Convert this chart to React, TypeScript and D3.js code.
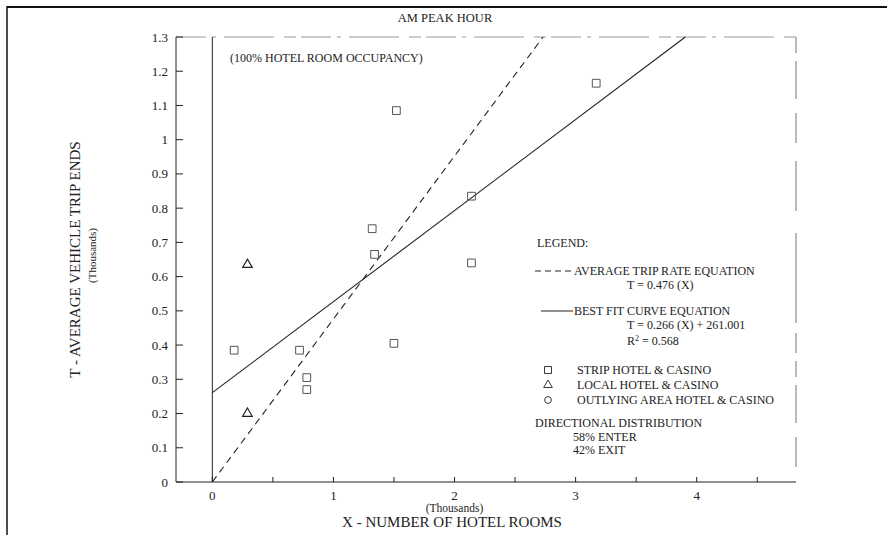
import React, { useEffect, useRef } from 'react';
import * as d3 from 'd3';

// Strip hotel & casino observations (thousands of rooms, thousands of trip ends)
const stripRooms = [0.18, 0.72, 0.78, 0.78, 1.5, 1.52, 1.32, 1.34, 2.14, 2.14, 3.17];
const stripTrips = [0.385, 0.385, 0.305, 0.27, 0.405, 1.085, 0.74, 0.665, 0.835, 0.64, 1.165];
// Local hotel & casino observations
const localRooms = [0.29, 0.29];
const localTrips = [0.635, 0.2];

const avgRate = 0.476;
const fitSlope = 0.266;
const fitIntercept = 0.261;

const xTicks = [0, 1, 2, 3, 4];
const xMinorTicks = [0, 0.5, 1, 1.5, 2, 2.5, 3, 3.5, 4, 4.5];
const yTicks = [0, 0.1, 0.2, 0.3, 0.4, 0.5, 0.6, 0.7, 0.8, 0.9, 1, 1.1, 1.2, 1.3];

const legendLines = [
  { text: 'AVERAGE TRIP RATE EQUATION', sub: ['T = 0.476 (X)'], dash: '6,4' },
  { text: 'BEST FIT CURVE EQUATION', sub: ['T = 0.266 (X) + 261.001', 'R2 = 0.568'], dash: '' },
];
const legendSymbols = ['STRIP HOTEL & CASINO', 'LOCAL HOTEL & CASINO', 'OUTLYING AREA HOTEL & CASINO'];
const distribution = ['58% ENTER', '42% EXIT'];

const W = 887;
const H = 535;

const Chart: React.FC = () => {
  const svgRef = useRef<SVGSVGElement | null>(null);

  useEffect(() => {
    if (!svgRef.current) return;
    const svg = d3.select(svgRef.current);
    svg.selectAll('*').remove();
    const font = '"Liberation Serif", "DejaVu Serif", serif';
    const ink = '#222';

    const x = d3.scaleLinear().domain([-0.3, 4.82]).range([176, 796]);
    const y = d3.scaleLinear().domain([0, 1.3]).range([482, 37]);

    // page frame
    svg.append('line').attr('x1', 7).attr('x2', W).attr('y1', 7).attr('y2', 7)
      .attr('stroke', '#111').attr('stroke-width', 2);
    svg.append('line').attr('x1', 7).attr('x2', 7).attr('y1', 6).attr('y2', H)
      .attr('stroke', '#111').attr('stroke-width', 1.5);

    // plot frame (top and right look broken in the scan)
    svg.append('line')
      .attr('x1', x(-0.3)).attr('x2', x(4.82)).attr('y1', y(1.3)).attr('y2', y(1.3))
      .attr('stroke', '#999').attr('stroke-dasharray', '30,6,4,8,50,10,12,5')
      .attr('stroke-width', 1);
    svg.append('line')
      .attr('x1', x(4.82)).attr('x2', x(4.82)).attr('y1', y(1.3)).attr('y2', y(0))
      .attr('stroke', '#777').attr('stroke-dasharray', '16,8,38,14,30,18,50,22,90,10,20,8')
      .attr('stroke-width', 1);

    // left axis
    svg.append('line')
      .attr('x1', x(-0.3)).attr('x2', x(-0.3)).attr('y1', y(1.3)).attr('y2', y(0))
      .attr('stroke', ink).attr('stroke-width', 1);
    const yAxis = svg.append('g');
    yTicks.forEach((t) => {
      yAxis.append('line')
        .attr('x1', x(-0.3)).attr('x2', x(-0.3) + 7).attr('y1', y(t)).attr('y2', y(t))
        .attr('stroke', ink);
      yAxis.append('text')
        .attr('x', x(-0.3) - 8).attr('y', y(t)).attr('dy', '0.35em')
        .attr('text-anchor', 'end')
        .style('font', `13px ${font}`).attr('fill', ink)
        .text(String(+t.toFixed(1)));
    });

    // bottom axis
    svg.append('line')
      .attr('x1', x(-0.3)).attr('x2', x(4.82)).attr('y1', y(0)).attr('y2', y(0))
      .attr('stroke', ink).attr('stroke-width', 1);
    xMinorTicks.forEach((t) => {
      svg.append('line')
        .attr('x1', x(t)).attr('x2', x(t)).attr('y1', y(0)).attr('y2', y(0) - 5)
        .attr('stroke', ink);
    });
    xTicks.forEach((t) => {
      svg.append('text')
        .attr('x', x(t)).attr('y', y(0) + 18)
        .attr('text-anchor', 'middle')
        .style('font', `13px ${font}`).attr('fill', ink)
        .text(String(t));
    });

    // vertical reference line at zero rooms
    svg.append('line')
      .attr('x1', x(0)).attr('x2', x(0)).attr('y1', y(1.3)).attr('y2', y(0))
      .attr('stroke', ink).attr('stroke-width', 1);

    // average trip rate (dashed) and best fit (solid)
    const line = d3.line<[number, number]>().x((d) => x(d[0])).y((d) => y(d[1]));
    svg.append('path')
      .attr('d', line([[0, 0], [1.3 / avgRate, 1.3]]))
      .attr('fill', 'none').attr('stroke', ink).attr('stroke-width', 1.1)
      .attr('stroke-dasharray', '7,5');
    svg.append('path')
      .attr('d', line([[0, fitIntercept], [(1.3 - fitIntercept) / fitSlope, 1.3]]))
      .attr('fill', 'none').attr('stroke', ink).attr('stroke-width', 1.1);

    // markers
    const sq = d3.symbol().type(d3.symbolSquare).size(60);
    const tri = d3.symbol().type(d3.symbolTriangle).size(40);
    const circ = d3.symbol().type(d3.symbolCircle).size(45);
    stripRooms.forEach((r, i) => {
      svg.append('path')
        .attr('d', sq()!)
        .attr('transform', `translate(${x(r)},${y(stripTrips[i])})`)
        .attr('fill', 'none').attr('stroke', '#555').attr('stroke-width', 1);
    });
    localRooms.forEach((r, i) => {
      svg.append('path')
        .attr('d', tri()!)
        .attr('transform', `translate(${x(r)},${y(localTrips[i])})`)
        .attr('fill', 'none').attr('stroke', ink).attr('stroke-width', 1.2);
    });

    // titles
    svg.append('text')
      .attr('x', 445).attr('y', 22).attr('text-anchor', 'middle')
      .style('font', `12.5px ${font}`).attr('fill', ink).text('AM PEAK HOUR');
    svg.append('text')
      .attr('x', 230).attr('y', 62)
      .style('font', `12px ${font}`).attr('fill', ink).text('(100% HOTEL ROOM OCCUPANCY)');

    svg.append('text')
      .attr('transform', `translate(80,${(y(0) + y(1.3)) / 2}) rotate(-90)`)
      .attr('text-anchor', 'middle')
      .style('font', `15px ${font}`).attr('fill', ink).text('T - AVERAGE VEHICLE TRIP ENDS');
    svg.append('text')
      .attr('transform', `translate(96,${(y(0) + y(1.3)) / 2 - 4}) rotate(-90)`)
      .attr('text-anchor', 'middle')
      .style('font', `11px ${font}`).attr('fill', ink).text('(Thousands)');

    svg.append('text')
      .attr('x', x(2)).attr('y', 512).attr('text-anchor', 'middle')
      .style('font', `11.5px ${font}`).attr('fill', ink).text('(Thousands)');
    svg.append('text')
      .attr('x', 452).attr('y', 527).attr('text-anchor', 'middle')
      .style('font', `15px ${font}`).attr('fill', ink).text('X - NUMBER OF HOTEL ROOMS');

    // legend
    const lg = svg.append('g').style('font', `12px ${font}`).attr('fill', ink);
    lg.append('text').attr('x', 537).attr('y', 247).text('LEGEND:');
    let ly = 275;
    legendLines.forEach((l) => {
      lg.append('line')
        .attr('x1', l.dash ? 535 : 541).attr('x2', 573).attr('y1', ly - 4).attr('y2', ly - 4)
        .attr('stroke', ink).attr('stroke-dasharray', l.dash || null);
      lg.append('text').attr('x', 574).attr('y', ly).text(l.text);
      l.sub.forEach((s, j) => {
        const t = lg.append('text').attr('x', 627).attr('y', ly + 14 + j * 16);
        if (s.startsWith('R2')) {
          t.append('tspan').text('R');
          t.append('tspan').attr('dy', -4).style('font-size', '8px').text('2');
          t.append('tspan').attr('dy', 4).text(s.slice(2));
        } else {
          t.text(s);
        }
      });
      ly += 40;
    });

    const syms = [sq, tri, circ];
    legendSymbols.forEach((s, i) => {
      const sy = 374 + i * 15;
      lg.append('path')
        .attr('d', syms[i]()!)
        .attr('transform', `translate(548,${sy - 4}) scale(0.9)`)
        .attr('fill', 'none').attr('stroke', ink);
      lg.append('text').attr('x', 577).attr('y', sy).text(s);
    });

    lg.append('text').attr('x', 535).attr('y', 427).text('DIRECTIONAL DISTRIBUTION');
    distribution.forEach((d, i) => {
      lg.append('text').attr('x', 573).attr('y', 441 + i * 13).text(d);
    });

    return () => { svg.selectAll('*').remove(); };
  }, []);

  return (
    <svg
      ref={svgRef}
      width={W}
      height={H}
      style={{ display: 'block', position: 'absolute', left: 0, top: 0, background: '#fff' }}
    />
  );
};

export default function App() {
  return <Chart />;
}
